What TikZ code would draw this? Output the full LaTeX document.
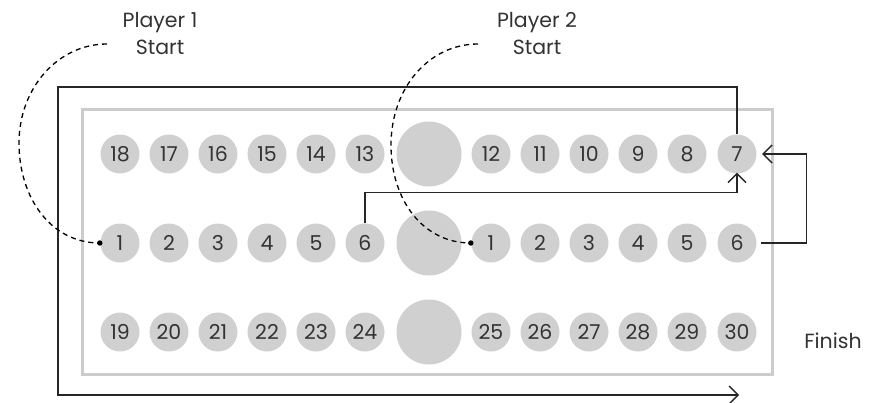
\documentclass[tikz,border=0pt]{standalone}
\usepackage{fontspec}
\setmainfont{Poppins}
\usetikzlibrary{arrows.meta}
\definecolor{cellgray}{HTML}{D0D0D0}
\definecolor{boxgray}{HTML}{CCCCCC}
\definecolor{txt}{HTML}{333333}
\begin{document}
\begin{tikzpicture}[x=1pt,y=-1pt,
  cell/.style={circle,fill=cellgray,minimum size=39pt,inner sep=0pt,text=txt,font=\fontsize{20.5}{22}\selectfont},
  bigcell/.style={circle,fill=cellgray,minimum size=65pt,inner sep=0pt},
  lbl/.style={text=txt,align=center,font=\fontsize{20.5}{27}\selectfont},
  conn/.style={draw=black!85,line width=1.3pt},
  arr/.style={conn,-{Straight Barb[length=9pt,width=18pt,line width=1.3pt]}},
  startpath/.style={draw=black,line width=1.3pt,dash pattern=on 5pt off 4pt}]
\useasboundingbox (0,0) rectangle (880,402);
% board frame
\draw[boxgray,line width=3pt] (82,109) rectangle (772,374);
% cells
\foreach \x/\l [count=\i] in {120/18,169/17,218/16,267/15,316/14,365/13,429/,491/12,540/11,589/10,638/9,687/8,737/7}{
  \ifnum\i=7 \node[bigcell] (r1c\i) at (\x,154) {};\else \node[cell] (r1c\i) at (\x,154) {\l};\fi }
\foreach \x/\l [count=\i] in {120/1,169/2,218/3,267/4,316/5,365/6,429/,491/1,540/2,589/3,638/4,687/5,737/6}{
  \ifnum\i=7 \node[bigcell] (r2c\i) at (\x,243) {};\else \node[cell] (r2c\i) at (\x,243) {\l};\fi }
\foreach \x/\l [count=\i] in {120/19,169/20,218/21,267/22,316/23,365/24,429/,491/25,540/26,589/27,638/28,687/29,737/30}{
  \ifnum\i=7 \node[bigcell] (r3c\i) at (\x,332) {};\else \node[cell] (r3c\i) at (\x,332) {\l};\fi }
% labels
\node[lbl] (p1) at (160,34) {Player 1\\Start};
\node[lbl] (p2) at (537,34) {Player 2\\Start};
\node[lbl] (fin) at (833,341) {Finish};
% connectors
\draw[arr] ([xshift=4.5pt]r2c13.east) -- ++(45,0) |- ([xshift=5.5pt]r1c13.east);
\draw[arr] (r2c6.north) -- ++(0,-31) -| ([yshift=1pt]r1c13.south);
\coordinate (c1) at (737,87);
\coordinate (c2) at (58,87);
\coordinate (c3) at (58,395);
\coordinate (endpt) at (739,395);
\draw[arr] (r1c13.north) -- (c1) -- (c2) -- (c3) -- (endpt);
% start paths
\coordinate (s1) at (107,44);
\coordinate (s2) at (478,44);
\coordinate (d1) at ([xshift=-0.5pt]r2c1.west);
\coordinate (d2) at ([xshift=-0.5pt]r2c8.west);
\draw[startpath] (s1) .. controls (58,44) and (19,88) .. (19,143) .. controls (19,198) and (51,243) .. (d1);
\draw[startpath] (s2) .. controls (429,44) and (391,88) .. (391,145) .. controls (391,200) and (423,243) .. (d2);
\fill (d1) circle (2.7pt);
\fill (d2) circle (2.7pt);
\end{tikzpicture}
\end{document}
